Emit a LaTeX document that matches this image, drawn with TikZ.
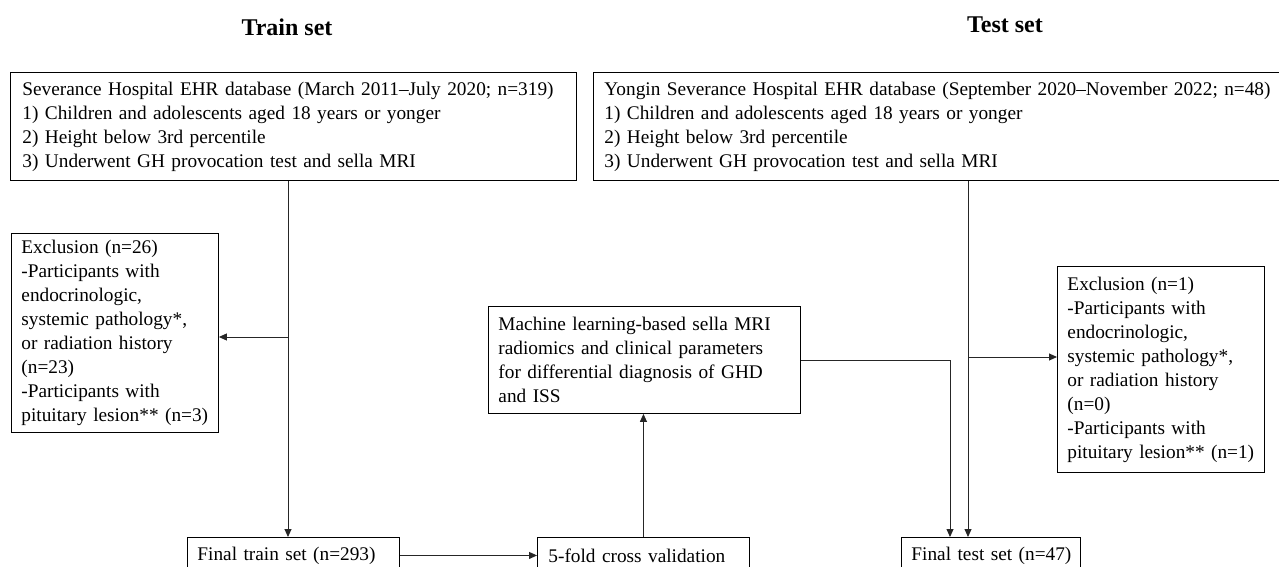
\documentclass[tikz,border=0pt]{standalone}
\usepackage{fontspec}
\setmainfont{Liberation Serif}
\usetikzlibrary{arrows.meta,calc}
\begin{document}
\begin{tikzpicture}[x=1pt,y=-1pt,
  box/.style={draw=black, line width=0.9pt, anchor=north west, align=left,
    inner ysep=0pt, font=\fontsize{19.3}{24}\selectfont},
  title/.style={font=\fontsize{24}{28}\selectfont\bfseries},
  conn/.style={draw=black!85, line width=0.9pt},
  arr/.style={conn, -{Triangle[length=8pt,width=7pt]}}]
\clip (0,0) rectangle (1279,567);
\fill[white] (0,0) rectangle (1279,567);
% titles
\node[title] (ttrain) at (287,27) {Train set};
\node[title] (ttest) at (1005,25) {Test set};
% boxes
\node[box, inner xsep=12pt, text width=542pt, minimum height=108pt] (b1) at (10,72)
 {Severance Hospital EHR database (March 2011--July 2020; n=319)\\
  1) Children and adolescents aged 18 years or yonger\\
  2) Height below 3rd percentile\\
  3) Underwent GH provocation test and sella MRI};
\node[box, inner xsep=11pt, text width=690pt, minimum height=108pt] (b2) at (593,72)
 {Yongin Severance Hospital EHR database (September 2020--November 2022; n=48)\\
  1) Children and adolescents aged 18 years or yonger\\
  2) Height below 3rd percentile\\
  3) Underwent GH provocation test and sella MRI};
\node[box, inner xsep=10pt, text width=187pt, minimum height=199pt] (exl) at (11,233)
 {Exclusion (n=26)\\
  -Participants with\\
  endocrinologic,\\
  systemic pathology*,\\
  or radiation history\\
  (n=23)\\
  -Participants with\\
  pituitary lesion** (n=3)};
\node[box, inner xsep=10pt, text width=187pt, minimum height=206pt] (exr) at (1057,266)
 {Exclusion (n=1)\\
  -Participants with\\
  endocrinologic,\\
  systemic pathology*,\\
  or radiation history\\
  (n=0)\\
  -Participants with\\
  pituitary lesion** (n=1)};
\node[box, inner xsep=10pt, text width=292pt, minimum height=107pt] (ml) at (488,306)
 {Machine learning-based sella MRI\\
  radiomics and clinical parameters\\
  for differential diagnosis of GHD\\
  and ISS};
\node[box, inner xsep=10pt, text width=192pt, minimum height=36pt] (ftrain) at (187,537)
 {Final train set (n=293)};
\node[box, inner xsep=11pt, text width=190pt, minimum height=36pt] (fold) at (537,537)
 {5-fold cross validation};
\node[box, inner xsep=7pt, text width=165pt, minimum height=36pt] (ftest) at (901,537)
 {\hspace*{3pt}Final test set (n=47)};
% connector helpers
\coordinate (vx) at (288,337);
\coordinate (vt) at (968,357);
\coordinate (vm) at (950,0);
% connectors
\draw[arr] (b1.south -| vx) -- (ftrain.north -| vx);
\draw[arr] (vx) -- (vx -| exl.east);
\draw[arr] (ftrain.east) -- (fold.west);
\draw[arr] (fold.north) -- (ml.south -| fold.north);
\draw[arr] (ml.east) -- (ml.east -| vm) -- (ftest.north -| vm);
\draw[arr] (b2.south -| vt) -- (ftest.north -| vt);
\draw[arr] (vt) -- (vt -| exr.west);
\end{tikzpicture}
\end{document}
